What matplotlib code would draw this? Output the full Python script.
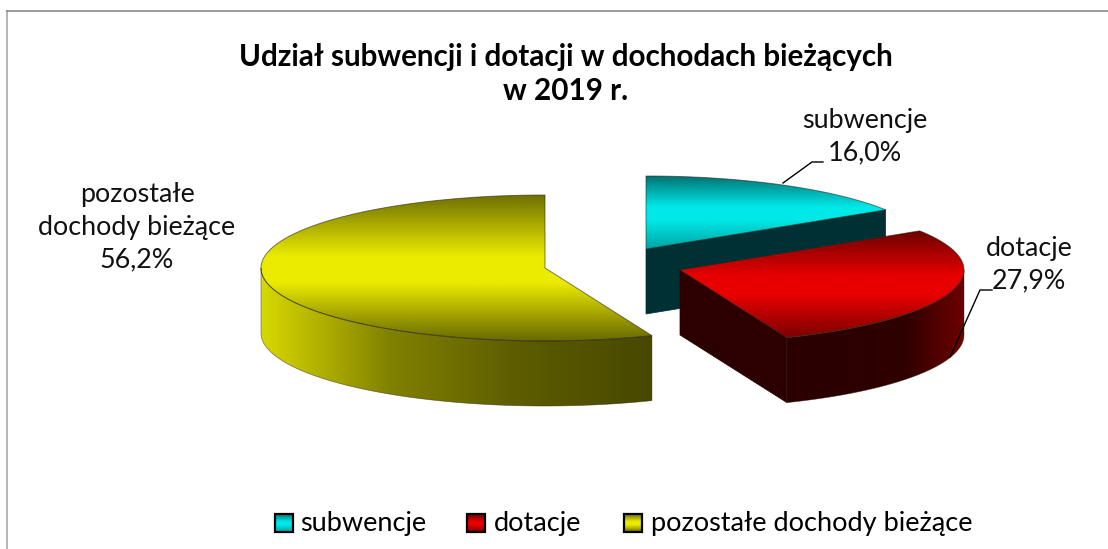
import numpy as np
import matplotlib
matplotlib.use("Agg")
import matplotlib.pyplot as plt
from matplotlib.colors import LinearSegmentedColormap
from matplotlib.patches import Polygon, Rectangle

categories = ["subwencje", "dotacje", "pozostałe dochody bieżące"]
values = [16.0, 27.9, 56.2]
label_texts = ["subwencje\n16,0%", "dotacje\n27,9%", "pozostałe\ndochody bieżące\n56,2%"]
title_text = "Udział subwencji i dotacji w dochodach bieżących\nw 2019 r."

plt.rcParams["font.family"] = ["Lato", "DejaVu Sans"]

# styling / geometry
centers = [(646, 249), (680, 270), (545, 268)]
RX, RY, DEPTH = 284, 73, 65
top_stops = [[(0, "#007272"), (.42, "#00e8e8"), (.6, "#00e8e8"), (1, "#00a4a4")],
             [(0, "#6e0000"), (.42, "#e80000"), (.6, "#e80000"), (1, "#7a0000")],
             [(0, "#707000"), (.42, "#ebeb00"), (.6, "#ebeb00"), (1, "#686800")]]
side_stops = [["#003030", "#003030"],
              ["#2c0000", "#2c0000", "#300000", "#6e0000"],
              ["#d8d800", "#808000", "#5c5c00", "#484800"]]
face_cols = ["#003034", "#2c0000", "#484800"]

fig = plt.figure(figsize=(11.08, 5.49), dpi=100, facecolor="white")
ax = fig.add_axes([0, 0, 1, 1])
ax.set_axis_off()


def arc(c, a0, a1, dy=0.0, n=200):
    t = np.radians(np.linspace(a0, a1, n))
    return np.column_stack([c[0] + RX * np.sin(t), c[1] - RY * np.cos(t) + dy])


def gradient(stops, extent, vertical, clip_xy):
    cmap = LinearSegmentedColormap.from_list("g", stops)
    g = np.linspace(0, 1, 256)
    arr = g[:, None] if vertical else g[None, :]
    im = ax.imshow(arr, cmap=cmap, extent=extent, aspect="auto", origin="upper",
                   interpolation="bilinear", zorder=2)
    poly = Polygon(clip_xy, closed=True, transform=ax.transData, fc="none", ec="none")
    ax.add_patch(poly)
    im.set_clip_path(poly)


def outline(xy, lw=0.7):
    ax.add_patch(Polygon(xy, closed=True, fc="none", ec="#2a2a18", lw=lw, alpha=.6, zorder=3))


edges = np.cumsum([0] + values) / sum(values) * 360.0

for i in range(3):
    c, a0, a1 = centers[i], edges[i], edges[i + 1]
    top = np.vstack([[c], arc(c, a0, a1)])
    c2 = (c[0], c[1] + DEPTH)

    if i < 2:  # visible cut face
        e = arc(c, a0, a1, n=2)[-1]
        face = [c, e, (e[0], e[1] + DEPTH), c2]
        ax.add_patch(Polygon(face, closed=True, fc=face_cols[i], ec=face_cols[i], lw=.5, zorder=2))

    # curved wall
    wa0, wa1 = max(a0, 90), min(a1, 270)
    if wa1 > wa0:
        upper = arc(c, wa0, wa1)
        lower = arc(c, wa0, wa1, dy=DEPTH)[::-1]
        wall = np.vstack([upper, lower])
        x0, x1 = wall[:, 0].min(), wall[:, 0].max()
        y0, y1 = wall[:, 1].min(), wall[:, 1].max()
        gradient(side_stops[i], (x0, x1, y1, y0), False, wall)
        outline(wall, .5)

    x0, x1 = top[:, 0].min(), top[:, 0].max()
    y0, y1 = top[:, 1].min(), top[:, 1].max()
    gradient(top_stops[i], (x0, x1, y1, y0), True, top)
    outline(top)

# leader lines
ax.plot([783, 812, 823], [183, 162, 162], color="black", lw=1, zorder=4)
ax.plot([950, 980, 992], [357, 290, 290], color="black", lw=1, zorder=4)

# data labels
label_pos = [(865, 137), (1029, 265), (137, 227)]
for (x, y), s in zip(label_pos, label_texts):
    ax.text(x, y, s, ha="center", va="center", fontsize=19.4, color="#111111",
            linespacing=1.38, zorder=5)

ax.text(566, 74, title_text, ha="center", va="center", fontsize=21.3, fontweight="bold",
        color="black", linespacing=1.25, zorder=5)

# legend
leg_sw = [275, 467, 624]
leg_tx = [300, 494, 651]
for i in range(3):
    ext = (leg_sw[i], leg_sw[i] + 18, 532, 514)
    sw = [(ext[0], ext[3]), (ext[1], ext[3]), (ext[1], ext[2]), (ext[0], ext[2])]
    gradient(top_stops[i], ext, True, sw)
    ax.add_patch(Rectangle((ext[0], ext[3]), 18, 18, fc="none", ec="black", lw=1.6, zorder=4))
    ax.text(leg_tx[i], 524, categories[i], ha="left", va="center", fontsize=19.5,
            color="black", zorder=5)

# chart frame
ax.plot([7, 7], [549, 11], color="#b4b4b4", lw=1.4, zorder=1)
ax.plot([7, 1108], [11, 11], color="#808080", lw=1.1, zorder=1)

ax.set_xlim(0, 1108)
ax.set_ylim(549, 0)
fig.savefig("out.png", dpi=100)
